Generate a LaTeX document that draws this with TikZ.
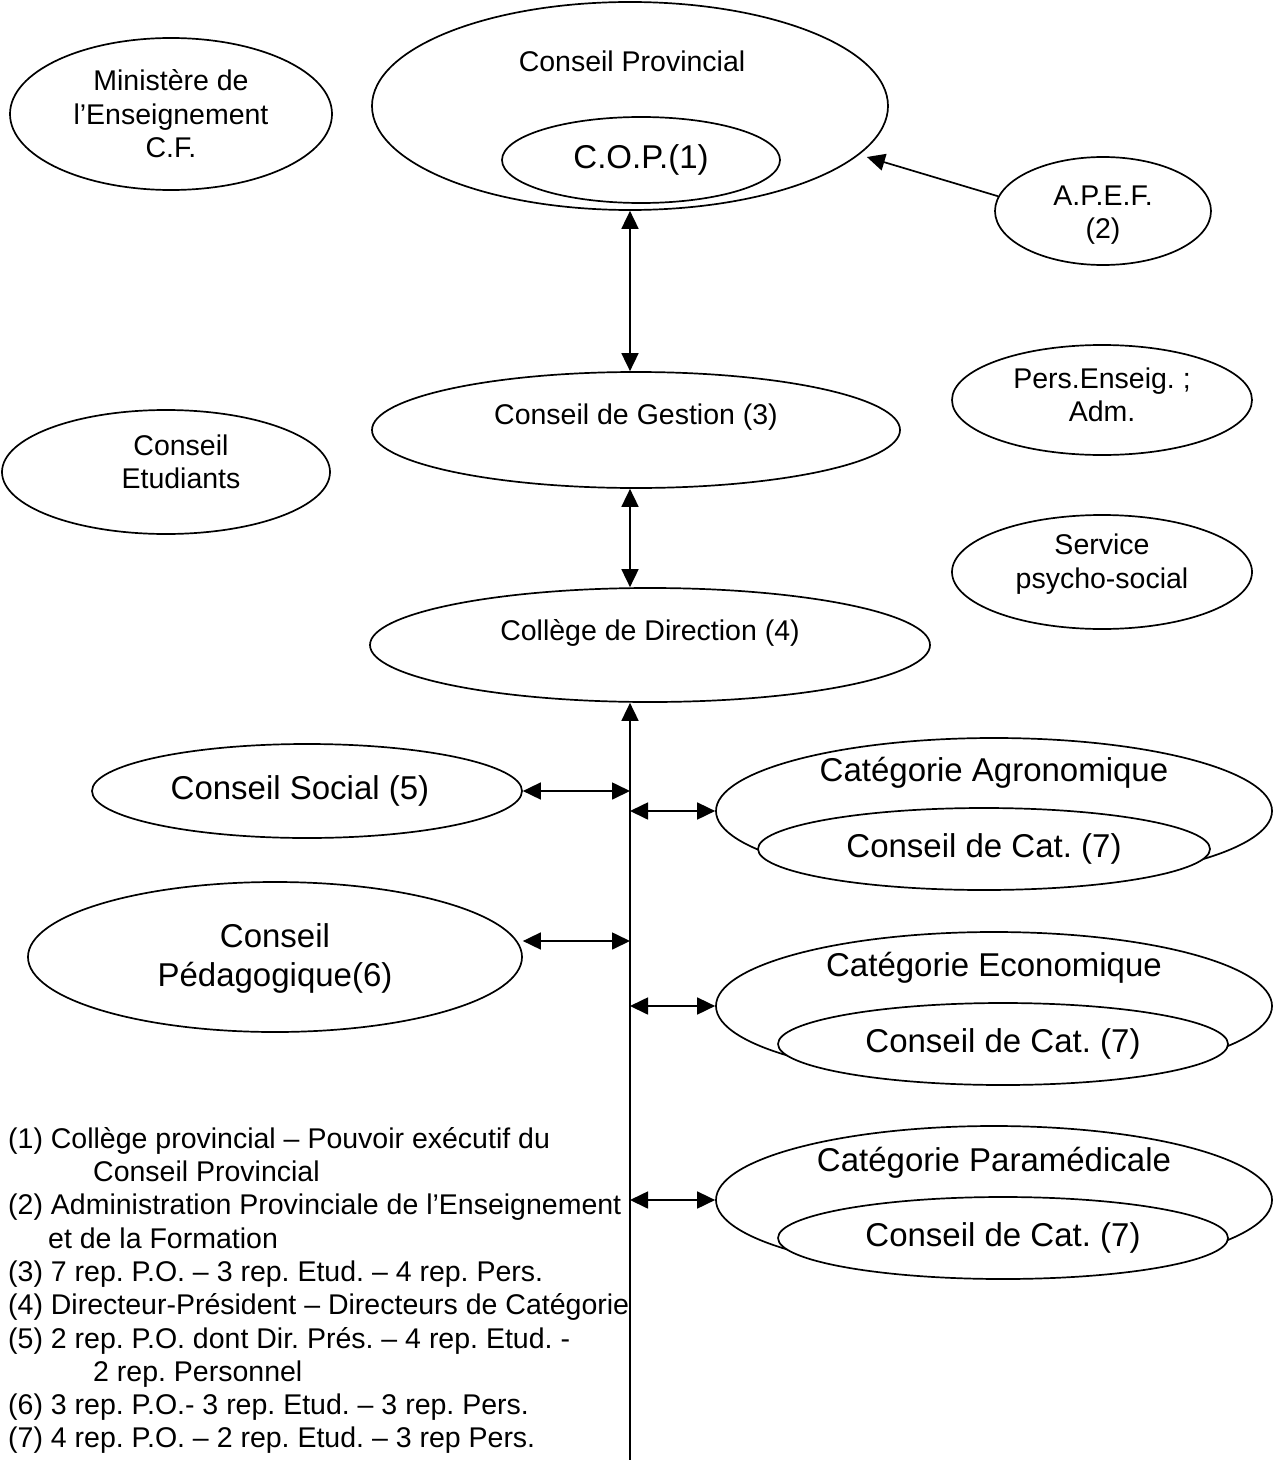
\documentclass[tikz,border=0pt]{standalone}
\usepackage{fontspec}
\setmainfont{Liberation Sans}
\usetikzlibrary{shapes.geometric,arrows.meta}
\frenchspacing
\newcommand\nsz{\fontsize{28.5bp}{33.5bp}\selectfont}
\newcommand\bsz{\fontsize{33bp}{39bp}\selectfont}
\begin{document}
\begin{tikzpicture}[x=1bp,y=-1bp,
  ell/.style={draw, ellipse, line width=1.7bp, inner sep=0pt, align=center, font=\nsz},
  txt/.style={inner sep=0pt, align=center, font=\nsz},
  btxt/.style={inner sep=0pt, align=center, font=\bsz},
  fn/.style={inner sep=0pt, anchor=base west, font=\nsz},
  tipend/.style={-{Triangle[length=18bp,width=17bp]}, line width=1.7bp},
  dbl/.style={{Triangle[length=18bp,width=17bp]}-{Triangle[length=18bp,width=17bp]}, line width=1.7bp}]
\useasboundingbox[fill=white] (0,0) rectangle (1279,1460);

% top
\node[ell, minimum width=322bp, minimum height=152bp] (min) at (171,114) {Ministère de\\l’Enseignement\\C.F.};
\node[ell, minimum width=516bp, minimum height=208bp] (cp) at (630,106) {};
\node[txt] (cpt) at (632,61) {Conseil Provincial};
\node[ell, fill=white, minimum width=278bp, minimum height=86bp, font=\bsz] (cop) at (641,160) {C.O.P.(1)};
\node[ell, minimum width=216bp, minimum height=108bp] (apef) at (1103,211) {};
\node[txt] (apeft) at (1103,215) {A.P.E.F.\\(2)};

% middle
\node[ell, minimum width=300bp, minimum height=110bp] (pers) at (1102,400) {};
\node[txt] (perst) at (1102,395) {Pers.Enseig. ;\\Adm.};
\node[ell, minimum width=328bp, minimum height=124bp] (etud) at (166,472) {};
\node[txt] (etudt) at (181,462) {Conseil\\Etudiants};
\node[ell, minimum width=528bp, minimum height=116bp] (gest) at (636,430) {};
\node[txt] (gestt) at (636,417) {Conseil de Gestion (3)};
\node[ell, minimum width=300bp, minimum height=114bp] (serv) at (1102,572) {};
\node[txt] (servt) at (1102,564) {Service\\psycho-social};
\node[ell, minimum width=560bp, minimum height=114bp] (coll) at (650,645) {};
\node[txt] (collt) at (650,633) {Collège de Direction (4)};

% lower left
\node[ell, minimum width=430bp, minimum height=94bp] (soc) at (307,791) {};
\node[btxt] (soct) at (300,791) {Conseil Social (5)};
\node[ell, minimum width=494bp, minimum height=150bp] (peda) at (275,957) {};
\node[btxt] (pedat) at (275,958) {Conseil\\Pédagogique(6)};

% categories
\node[ell, minimum width=556bp, minimum height=146bp] (agro) at (994,811) {};
\node[btxt] (agrot) at (994,773) {Catégorie Agronomique};
\node[ell, fill=white, minimum width=452bp, minimum height=82bp, font=\bsz] (agroc) at (984,849) {Conseil de Cat. (7)};

\node[ell, minimum width=556bp, minimum height=148bp] (eco) at (994,1006) {};
\node[btxt] (ecot) at (994,968) {Catégorie Economique};
\node[ell, fill=white, minimum width=450bp, minimum height=82bp, font=\bsz] (ecoc) at (1003,1044) {Conseil de Cat. (7)};

\node[ell, minimum width=556bp, minimum height=148bp] (para) at (994,1200) {};
\node[btxt] (parat) at (994,1163) {Catégorie Paramédicale};
\node[ell, fill=white, minimum width=450bp, minimum height=82bp, font=\bsz] (parac) at (1003,1238) {Conseil de Cat. (7)};

% connectors
\coordinate (base) at (630,1460);
\draw[dbl] (cp.south) -- (cp.south |- gest.north);
\draw[dbl] (base |- gest.south) -- (base |- coll.north);
\draw[tipend] (base) -- (base |- coll.south);
\draw[tipend, shorten >=8bp] (apef.172) -- (cp.-12);
\draw[dbl] (soc.east) -- (soc.east -| base);
\draw[dbl] (peda.east |- 0,941) -- (base |- 0,941);
\draw[dbl] (agro.west -| base) -- (agro.west);
\draw[dbl] (eco.west -| base) -- (eco.west);
\draw[dbl] (para.west -| base) -- (para.west);

% footnotes
\node[fn] (f1a) at (8,1148) {(1) Collège provincial – Pouvoir exécutif du};
\node[fn] (f1b) at (93,1181) {Conseil Provincial};
\node[fn] (f2a) at (8,1214) {(2) Administration Provinciale de l’Enseignement};
\node[fn] (f2b) at (48,1248) {et de la Formation};
\node[fn] (f3) at (8,1281) {(3) 7 rep. P.O. – 3 rep. Etud. – 4 rep. Pers.};
\node[fn] (f4) at (8,1314) {(4) Directeur-Président – Directeurs de Catégorie};
\node[fn] (f5a) at (8,1348) {(5) 2 rep. P.O. dont Dir. Prés. – 4 rep. Etud. -};
\node[fn] (f5b) at (93,1381) {2 rep. Personnel};
\node[fn] (f6) at (8,1414) {(6) 3 rep. P.O.- 3 rep. Etud. – 3 rep. Pers.};
\node[fn] (f7) at (8,1447) {(7) 4 rep. P.O. – 2 rep. Etud. – 3 rep Pers.};
\end{tikzpicture}
\end{document}
